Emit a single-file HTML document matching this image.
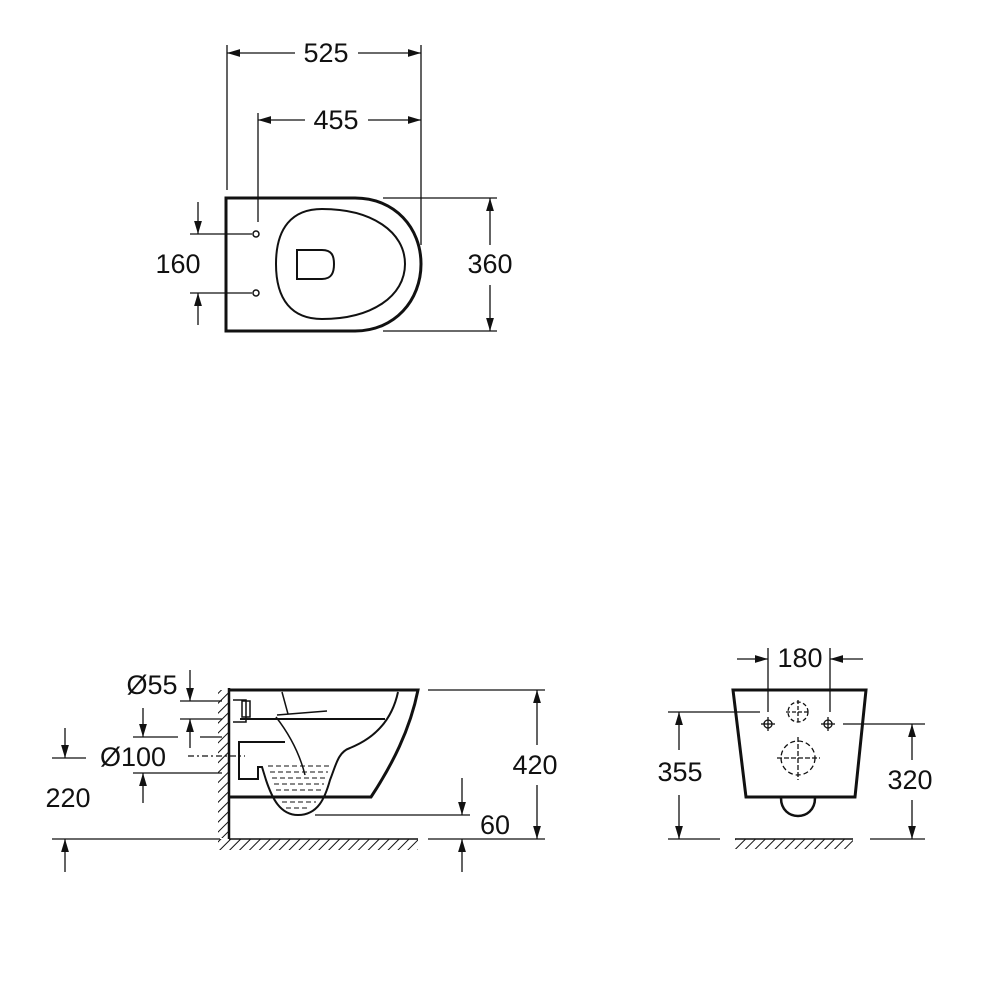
<!DOCTYPE html>
<html><head><meta charset="utf-8"><style>
html,body{margin:0;padding:0;background:#fff}
svg{display:block}
text{font-family:"Liberation Sans",Arial,sans-serif;font-size:27px;fill:#111}
</style></head><body>
<svg width="1000" height="1000" viewBox="0 0 1000 1000" xmlns="http://www.w3.org/2000/svg">
<defs>
<marker id="a" viewBox="0 0 10 10" refX="10" refY="5" markerWidth="13" markerHeight="13" markerUnits="userSpaceOnUse" orient="auto-start-reverse"><path d="M0,2 L10,5 L0,8 Z" fill="#111"/></marker>
<pattern id="h" width="7" height="7" patternUnits="userSpaceOnUse" patternTransform="rotate(45)"><line x1="0" y1="0" x2="0" y2="7" stroke="#111" stroke-width="2"/></pattern>
</defs>
<g fill="none" stroke="#111" stroke-width="1.3">
<!-- TOP VIEW -->
<path d="M226,198 H355 C395,198 421,228 421,264 C421,300 395,331 355,331 H226 Z" stroke-width="3"/>
<path d="M322,209 C372,209 405,232 405,264 C405,296 372,319 322,319 C292,319 276,300 276,264 C276,228 292,209 322,209 Z" stroke-width="2"/>
<path d="M297,250 H322 C332,250 334,256 334,264 C334,272 332,279 322,279 H297 Z" stroke-width="2"/>
<circle cx="256" cy="234" r="3" stroke-width="1.5"/><circle cx="256" cy="293" r="3" stroke-width="1.5"/>
<line x1="227" y1="45" x2="227" y2="190"/><line x1="421" y1="45" x2="421" y2="245"/>
<line x1="227" y1="53" x2="295" y2="53" marker-start="url(#a)"/><line x1="358" y1="53" x2="421" y2="53" marker-end="url(#a)"/>
<line x1="258" y1="113" x2="258" y2="222"/>
<line x1="258" y1="120" x2="305" y2="120" marker-start="url(#a)"/><line x1="368" y1="120" x2="421" y2="120" marker-end="url(#a)"/>
<line x1="383" y1="198" x2="497" y2="198"/><line x1="383" y1="331" x2="497" y2="331"/>
<line x1="490" y1="245" x2="490" y2="198" marker-end="url(#a)"/><line x1="490" y1="285" x2="490" y2="331" marker-end="url(#a)"/>
<line x1="190" y1="234" x2="252" y2="234"/><line x1="190" y1="293" x2="252" y2="293"/>
<line x1="198" y1="202" x2="198" y2="234" marker-end="url(#a)"/><line x1="198" y1="325" x2="198" y2="293" marker-end="url(#a)"/>

<!-- SIDE VIEW -->
<rect x="218" y="690" width="11" height="148" fill="url(#h)" stroke="none"/>
<rect x="218" y="839" width="200" height="11" fill="url(#h)" stroke="none"/>
<line x1="229" y1="688" x2="229" y2="839" stroke-width="2.5"/>
<line x1="229" y1="839" x2="418" y2="839" stroke-width="1.5"/>
<path d="M229,690 H418 C410,730 392,765 371,797 H229" stroke-width="3"/>
<path d="M398,692 C392,720 375,738 350,748 C338,752 336,765 330,780 C325,798 318,815 298,815 C280,815 272,798 266,780 L262,767 H258 V779 H239 V742 H285" stroke-width="2"/>
<line x1="240" y1="719" x2="385" y2="719" stroke-width="2"/>
<path d="M282,692 L288,714" stroke-width="1.5"/>
<path d="M276,717 C290,735 300,755 305,775" stroke-width="1.5"/>
<path d="M277,715 L327,711" stroke-width="1.5"/>
<path d="M233,700 H246 V722 H233" stroke-width="1.5"/>
<rect x="242" y="701" width="8" height="16" stroke-width="1.5"/>
<g stroke-width="1" stroke-dasharray="5,3">
<line x1="268" y1="766" x2="330" y2="766"/><line x1="270" y1="772" x2="328" y2="772"/>
<line x1="272" y1="778" x2="326" y2="778"/><line x1="274" y1="784" x2="324" y2="784"/>
<line x1="276" y1="790" x2="322" y2="790"/><line x1="278" y1="796" x2="320" y2="796"/>
<line x1="282" y1="802" x2="316" y2="802"/><line x1="286" y1="808" x2="310" y2="808"/>
</g>
<line x1="428" y1="690" x2="545" y2="690"/><line x1="428" y1="839" x2="545" y2="839"/>
<line x1="537" y1="745" x2="537" y2="690" marker-end="url(#a)"/><line x1="537" y1="785" x2="537" y2="839" marker-end="url(#a)"/>
<line x1="315" y1="815" x2="470" y2="815"/>
<line x1="462" y1="778" x2="462" y2="815" marker-end="url(#a)"/><line x1="462" y1="872" x2="462" y2="839" marker-end="url(#a)"/>
<line x1="52" y1="839" x2="220" y2="839"/>
<line x1="52" y1="758" x2="86" y2="758"/>
<line x1="65" y1="728" x2="65" y2="758" marker-end="url(#a)"/><line x1="65" y1="872" x2="65" y2="839" marker-end="url(#a)"/>
<line x1="180" y1="701" x2="222" y2="701"/><line x1="180" y1="719" x2="222" y2="719"/>
<line x1="190" y1="670" x2="190" y2="701" marker-end="url(#a)"/><line x1="190" y1="748" x2="190" y2="719" marker-end="url(#a)"/>
<line x1="133" y1="737" x2="178" y2="737"/><line x1="200" y1="737" x2="222" y2="737"/>
<line x1="133" y1="773" x2="222" y2="773"/>
<line x1="143" y1="708" x2="143" y2="737" marker-end="url(#a)"/><line x1="143" y1="803" x2="143" y2="773" marker-end="url(#a)"/>
<line x1="188" y1="756" x2="245" y2="756" stroke-dasharray="6,3,2,3"/>

<!-- FRONT VIEW -->
<path d="M733,690 H866 L855,797 H746 Z" stroke-width="3"/>
<path d="M781,798 C781,822 815,822 815,798" stroke-width="2.5"/>
<rect x="735" y="839" width="118" height="10" fill="url(#h)" stroke="none"/>
<line x1="735" y1="839" x2="853" y2="839" stroke-width="1.5"/>
<circle cx="768" cy="724" r="4"/><line x1="761" y1="724" x2="775" y2="724"/><line x1="768" y1="717" x2="768" y2="731"/>
<circle cx="828" cy="724" r="4"/><line x1="821" y1="724" x2="835" y2="724"/><line x1="828" y1="717" x2="828" y2="731"/>
<circle cx="798" cy="712" r="10" stroke-dasharray="4,2.5"/><line x1="786" y1="712" x2="810" y2="712" stroke-dasharray="4,2"/><line x1="798" y1="700" x2="798" y2="724" stroke-dasharray="4,2"/>
<circle cx="798" cy="758" r="17" stroke-dasharray="5,3"/><line x1="777" y1="758" x2="820" y2="758" stroke-dasharray="5,2"/><line x1="798" y1="737" x2="798" y2="780" stroke-dasharray="5,2"/>
<line x1="768" y1="648" x2="768" y2="712"/><line x1="830" y1="648" x2="830" y2="712"/>
<line x1="737" y1="659" x2="768" y2="659" marker-end="url(#a)"/><line x1="863" y1="659" x2="830" y2="659" marker-end="url(#a)"/>
<line x1="668" y1="712" x2="760" y2="712"/><line x1="668" y1="839" x2="720" y2="839"/>
<line x1="679" y1="750" x2="679" y2="712" marker-end="url(#a)"/><line x1="679" y1="795" x2="679" y2="839" marker-end="url(#a)"/>
<line x1="843" y1="724" x2="925" y2="724"/><line x1="870" y1="839" x2="925" y2="839"/>
<line x1="912" y1="760" x2="912" y2="724" marker-end="url(#a)"/><line x1="912" y1="800" x2="912" y2="839" marker-end="url(#a)"/>
</g>
<g text-anchor="middle" dominant-baseline="central">
<text x="326" y="53">525</text>
<text x="336" y="120">455</text>
<text x="490" y="264">360</text>
<text x="178" y="264">160</text>
<text x="535" y="765">420</text>
<text x="495" y="825">60</text>
<text x="68" y="798">220</text>
<text x="152" y="685">Ø55</text>
<text x="133" y="757">Ø100</text>
<text x="800" y="658">180</text>
<text x="680" y="772">355</text>
<text x="910" y="780">320</text>
</g>
</svg>
</body></html>
